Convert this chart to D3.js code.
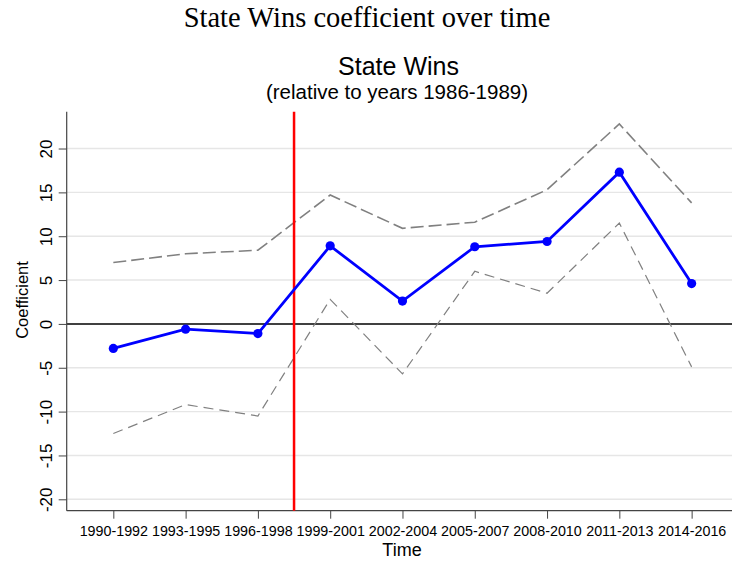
<!DOCTYPE html>
<html>
<head>
<meta charset="utf-8">
<script src="https://cdn.jsdelivr.net/npm/d3@7"></script>
<style>
  body { margin: 0; background: #fff; }
  svg { display: block; }
</style>
</head>
<body>
<script>
// periods on the x axis
var periods = ["1990-1992", "1993-1995", "1996-1998", "1999-2001", "2002-2004",
               "2005-2007", "2008-2010", "2011-2013", "2014-2016"];
// point estimates and 95% bounds
var coef  = [-2.8, -0.6, -1.1, 8.9, 2.6, 8.8, 9.4, 17.3, 4.6];
var upper = [7.0, 8.0, 8.4, 14.7, 10.9, 11.6, 15.3, 22.8, 13.8];
var lower = [-12.5, -9.2, -10.5, 2.8, -5.7, 6.0, 3.5, 11.5, -4.9];
var yTicks = [20, 15, 10, 5, 0, -5, -10, -15, -20];
var breakAt = 3.5; // red line between 1996-1998 and 1999-2001

var W = 732, H = 562;
var pLeft = 66.7, pRight = 735, pTop = 111.7, pBottom = 510.7;

var svg = d3.select("body").append("svg").attr("width", W).attr("height", H);

var x = d3.scaleLinear().domain([0.355, 9.6]).range([pLeft, pRight]);
var y = d3.scaleLinear().domain([-21.3, 24.2]).range([pBottom, pTop]);

// titles
svg.append("text").attr("x", 367).attr("y", 27).attr("text-anchor", "middle")
  .style("font-family", "'Liberation Serif', 'Times New Roman', serif")
  .style("font-size", "28.5px").text("State Wins coefficient over time");
svg.append("text").attr("x", 398.5).attr("y", 75).attr("text-anchor", "middle")
  .style("font-family", "'Liberation Sans', Arial, sans-serif")
  .style("font-size", "25px").text("State Wins");
svg.append("text").attr("x", 397).attr("y", 99).attr("text-anchor", "middle")
  .style("font-family", "'Liberation Sans', Arial, sans-serif")
  .style("font-size", "20.5px").text("(relative to years 1986-1989)");

// gridlines
svg.append("g").selectAll("line").data(yTicks.filter(function(d){ return d != 0; }))
  .enter().append("line")
  .attr("x1", pLeft).attr("x2", pRight)
  .attr("y1", function(d){ return y(d); }).attr("y2", function(d){ return y(d); })
  .attr("stroke", "#e6e6e6").attr("stroke-width", 1.4);

// zero line
svg.append("line").attr("x1", pLeft).attr("x2", pRight)
  .attr("y1", y(0)).attr("y2", y(0))
  .attr("stroke", "#000").attr("stroke-width", 1.5);

// y axis
var yAxis = d3.axisLeft(y).tickValues(yTicks).tickSize(8).tickPadding(6)
  .tickFormat(function(d){ return d; });
var gy = svg.append("g").attr("transform", "translate(" + pLeft + ",0)").call(yAxis);
gy.select(".domain").attr("d", "M0," + pTop + "V" + pBottom).attr("stroke", "#444").attr("stroke-width", 1.2);
gy.selectAll(".tick line").attr("stroke", "#444");
gy.selectAll(".tick text")
  .style("font-family", "'Liberation Sans', Arial, sans-serif").style("font-size", "17px")
  .attr("fill", "#000")
  .attr("text-anchor", "middle").attr("dy", null).attr("x", null)
  .attr("transform", "translate(-21,0) rotate(-90)").attr("y", 6);

// x axis
var xAxis = d3.axisBottom(x).tickValues(d3.range(1, periods.length + 1)).tickSize(8).tickPadding(7)
  .tickFormat(function(d){ return periods[d - 1]; });
var gx = svg.append("g").attr("transform", "translate(0," + pBottom + ")").call(xAxis);
gx.select(".domain").attr("d", "M" + pLeft + ",0H" + pRight).attr("stroke", "#444").attr("stroke-width", 1.2);
gx.selectAll(".tick line").attr("stroke", "#444");
gx.selectAll(".tick text")
  .style("font-family", "'Liberation Sans', Arial, sans-serif").style("font-size", "14.3px")
  .attr("fill", "#000");

// axis titles
svg.append("text").attr("transform", "translate(28,300) rotate(-90)").attr("text-anchor", "middle")
  .style("font-family", "'Liberation Sans', Arial, sans-serif").style("font-size", "16.5px")
  .text("Coefficient");
svg.append("text").attr("x", 402).attr("y", 556).attr("text-anchor", "middle")
  .style("font-family", "'Liberation Sans', Arial, sans-serif").style("font-size", "18px")
  .text("Time");

var line = d3.line().x(function(d, i){ return x(i + 1); }).y(function(d){ return y(d); });

// confidence bounds
svg.append("path").datum(upper).attr("d", line).attr("fill", "none")
  .attr("stroke", "#808080").attr("stroke-width", 1.6).attr("stroke-dasharray", "13,5");
svg.append("path").datum(lower).attr("d", line).attr("fill", "none")
  .attr("stroke", "#808080").attr("stroke-width", 1.2).attr("stroke-dasharray", "10,6");

// red break line
svg.append("line").attr("x1", x(breakAt)).attr("x2", x(breakAt))
  .attr("y1", pTop).attr("y2", pBottom)
  .attr("stroke", "#ff0000").attr("stroke-width", 2.5);

// coefficient line
svg.append("path").datum(coef).attr("d", line).attr("fill", "none")
  .attr("stroke", "#0000ff").attr("stroke-width", 2.8);
svg.append("g").selectAll("circle").data(coef).enter().append("circle")
  .attr("cx", function(d, i){ return x(i + 1); }).attr("cy", function(d){ return y(d); })
  .attr("r", 4.6).attr("fill", "#0000ff");
</script>
</body>
</html>
